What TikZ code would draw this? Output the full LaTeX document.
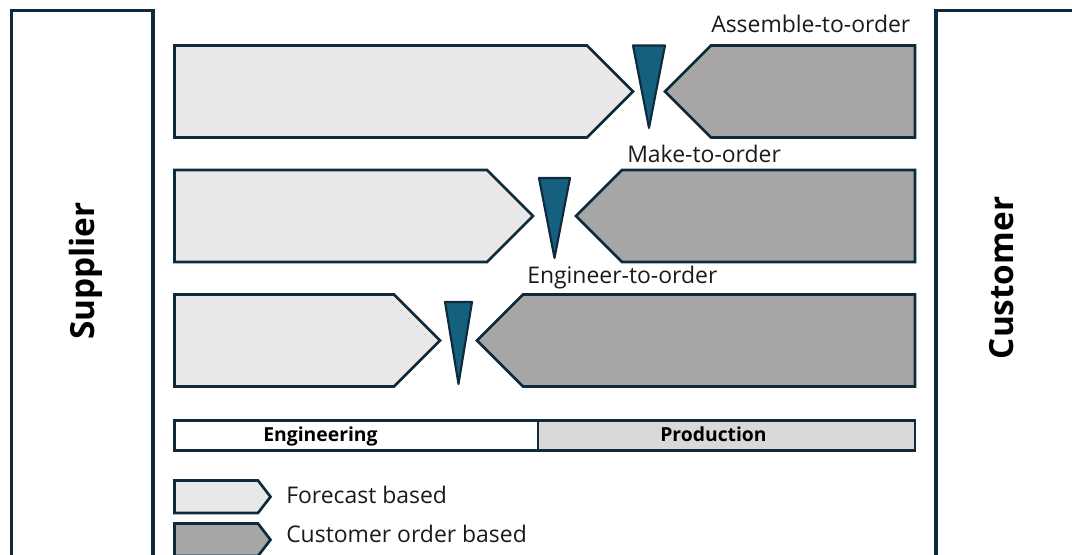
\documentclass[tikz,border=0pt]{standalone}
\usepackage{fontspec}
\setmainfont{Open Sans}
\definecolor{edge}{HTML}{0E2A3C}
\definecolor{wedge}{HTML}{16607F}
\definecolor{forecast}{HTML}{E8E8E8}
\definecolor{order}{HTML}{A6A6A6}
\definecolor{prod}{HTML}{D9D9D9}
\definecolor{ink}{HTML}{1A1A1A}
\tikzset{
  panel/.style={draw=edge, line width=2.3, fill=white},
  fshape/.style={draw=edge, line width=2, fill=forecast, line join=miter},
  oshape/.style={draw=edge, line width=2, fill=order, line join=miter},
  decouple/.style={draw=edge, line width=1.6, fill=wedge, line join=round},
  cell/.style={draw=edge, line width=2},
  label/.style={font=\fontsize{17.2}{19}\selectfont, text=ink, inner sep=0pt},
  side/.style={font=\fontsize{25}{28}\selectfont\bfseries, text=black, rotate=90, inner sep=0pt},
  celltext/.style={font=\fontsize{14.5}{16}\selectfont\bfseries, text=black, inner sep=0pt},
}
\begin{document}
\begin{tikzpicture}[x=0.75pt, y=-0.75pt]
\useasboundingbox (0,0) rectangle (1072,555);

% supplier and customer panels, running off the lower edge
\draw[panel] (11.5,570) -- (11.5,10.5) -- (153,10.5) -- (153,570);
\draw[panel] (1090,10.5) -- (936,10.5) -- (936,570);
\node[side] (supplier) at (86,271) {Supplier};
\node[side] (customer) at (1002,278) {Customer};

% one row: #1 top, #2 bottom, #3 forecast tip x, #4 order tip x,
% #5 wedge half width, #6 wedge top, #7 wedge apex
\newcommand{\orderrow}[7]{%
  \pgfmathsetmacro{\mid}{(#1+#2)/2}
  \pgfmathsetmacro{\half}{(#2-#1)/2}
  \draw[fshape] (174.5,#1) -- ({#3-\half},#1) -- (#3,\mid) -- ({#3-\half},#2) -- (174.5,#2) -- cycle;
  \draw[oshape] (915,#1) -- ({#4+\half},#1) -- (#4,\mid) -- ({#4+\half},#2) -- (915,#2) -- cycle;
  \pgfmathsetmacro{\cx}{(#3+#4)/2}
  \draw[decouple] ({\cx-#5},#6) -- ({\cx+#5},#6) -- (\cx,#7) -- cycle;
}

% assemble-to-order
\orderrow{45.5}{137.5}{633}{665}{16}{45.5}{128}
\node[label, anchor=base west] (ato) at (711,33) {Assemble-to-order};

% make-to-order
\orderrow{170}{262}{533}{576}{15.5}{178}{258}
\node[label, anchor=base west] (mto) at (627,163) {Make-to-order};

% engineer-to-order
\orderrow{294.5}{386.5}{440}{477}{13.5}{302}{384}
\node[label, anchor=base west] (eto) at (527,284) {Engineer-to-order};

% engineering / production bar
\draw[cell, fill=white] (174.5,420.5) rectangle (538,450.5);
\draw[cell, fill=prod] (538,420.5) rectangle (915,450.5);
\node[celltext, anchor=base] (eng) at (320.5,442) {Engineering};
\node[celltext, anchor=base] (prd) at (713.5,442) {Production};

% legend
\draw[fshape] (174.5,480.5) -- (258,480.5) -- (270.5,496.8) -- (258,513) -- (174.5,513) -- cycle;
\draw[oshape] (174.5,523.5) -- (258,523.5) -- (270.5,539.8) -- (258,556) -- (174.5,556) -- cycle;
\node[label, anchor=base west] (lf) at (286,503.5) {Forecast based};
\node[label, anchor=base west] (lo) at (286,543) {Customer order based};
\end{tikzpicture}
\end{document}
